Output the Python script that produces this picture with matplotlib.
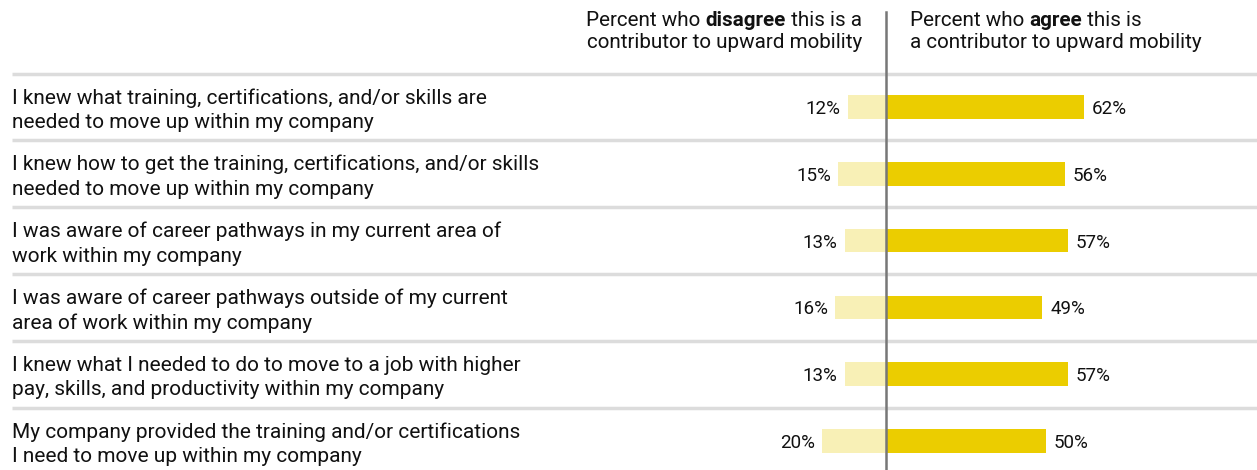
import matplotlib
matplotlib.use("Agg")
import matplotlib.pyplot as plt

plt.rcParams['font.family'] = ['Roboto', 'DejaVu Sans']

labels = [
    "I knew what training, certifications, and/or skills are\nneeded to move up within my company",
    "I knew how to get the training, certifications, and/or skills\nneeded to move up within my company",
    "I was aware of career pathways in my current area of\nwork within my company",
    "I was aware of career pathways outside of my current\narea of work within my company",
    "I knew what I needed to do to move to a job with higher\npay, skills, and productivity within my company",
    "My company provided the training and/or certifications\nI need to move up within my company",
]
disagree = [12, 15, 13, 16, 13, 20]
agree = [62, 56, 57, 49, 57, 50]

W, H = 1257, 470
fig = plt.figure(figsize=(W / 100, H / 100), dpi=100)
ax = fig.add_axes([0, 0, 1, 1])

# pixel layout: zero line at 886px, 3.19px per percent, rows 66.8px apart
ppp = 3.19
x0 = 886
row_h = 66.8
row0 = 107
ax.set_xlim(-x0 / ppp, (W - x0) / ppp)
ax.set_ylim((H - row0) / row_h, -row0 / row_h)
ax.axis("off")

light = "#F8F0B6"
dark = "#EBCD00"
n = len(labels)
ys = list(range(n))
ax.barh(ys, [-d for d in disagree], height=0.355, color=light)
ax.barh(ys, agree, height=0.355, color=dark)

left_x = (12 - x0) / ppp
for i in range(n + 1):
    ax.plot([left_x, (W - x0) / ppp], [i - 0.5, i - 0.5], color="#DCDCDC", lw=2.5,
            solid_capstyle="butt", zorder=0)

for i, (lab, d, a) in enumerate(zip(labels, disagree, agree)):
    ax.text(left_x, i + 3 / row_h, lab, ha="left", va="center", fontsize=15,
            color="#111111", linespacing=1.36)
    ax.text(-d - 7 / ppp, i + 2 / row_h, f"{d}%", ha="right", va="center", fontsize=13.5, color="#111111")
    ax.text(a + 8 / ppp, i + 2 / row_h, f"{a}%", ha="left", va="center", fontsize=13.5, color="#111111")

# center line
ax.plot([0, 0], [-1.6 + 12 / row_h, (H - row0) / row_h], color="#777777", lw=1.8, zorder=5)

# headers with bold words
fig.canvas.draw()
r = fig.canvas.get_renderer()
hs = 14.9


def width_of(s, weight):
    t = fig.text(0, 0, s, fontsize=hs, fontweight=weight)
    w = t.get_window_extent(r).width
    t.remove()
    return w


def mixed_line(parts, x, y, align):
    ws = [width_of(s, wt) for s, wt in parts]
    total = sum(ws)
    start = x - total if align == "right" else x
    for (s, wt), w in zip(parts, ws):
        fig.text(start / W, 1 - y / H, s, fontsize=hs, fontweight=wt,
                 ha="left", va="center", color="#111111")
        start += w


mixed_line([("Percent who ", "normal"), ("disagree", "bold"), (" this is a", "normal")],
           862, 20, "right")
mixed_line([("contributor to upward mobility", "normal")], 862, 43, "right")
mixed_line([("Percent who ", "normal"), ("agree", "bold"), (" this is", "normal")],
           910, 20, "left")
mixed_line([("a contributor to upward mobility", "normal")], 910, 43, "left")

fig.savefig("out.png", dpi=100)
